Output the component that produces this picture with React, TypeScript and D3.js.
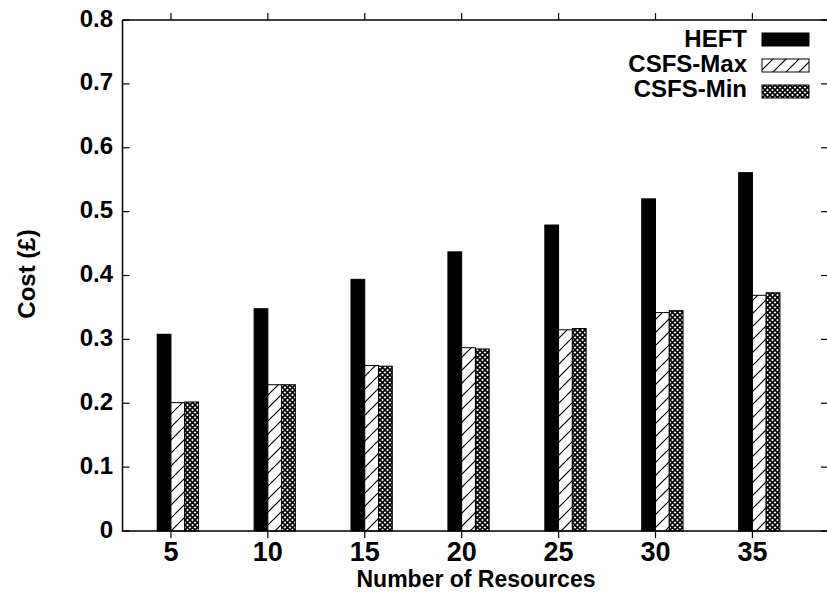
import React from "react";
import * as d3 from "d3";

// Number of resources on the x axis
const resources = [5, 10, 15, 20, 25, 30, 35];
// Cost (£) per scheduler
const heft = [0.308, 0.348, 0.394, 0.437, 0.479, 0.52, 0.561];
const csfsMax = [0.201, 0.229, 0.259, 0.287, 0.315, 0.342, 0.369];
const csfsMin = [0.202, 0.229, 0.258, 0.285, 0.317, 0.345, 0.373];
const yTicks = [0, 0.1, 0.2, 0.3, 0.4, 0.5, 0.6, 0.7, 0.8];
const seriesNames = ["HEFT", "CSFS-Max", "CSFS-Min"];

const W = 827;
const H = 596;
const FONT = "'Liberation Sans', Arial, Helvetica, sans-serif";

export default function App() {
  const x = d3.scaleLinear().domain([2.5, 38.9]).range([122.5, 828]);
  const y = d3.scaleLinear().domain([0, 0.8]).range([531, 20]);
  const bw = 0.71; // bar width in x units

  const series = [
    { name: seriesNames[0], values: heft, fill: "#000", offset: -bw / 2 },
    { name: seriesNames[1], values: csfsMax, fill: "url(#hatch)", offset: bw / 2 },
    { name: seriesNames[2], values: csfsMin, fill: "url(#cross)", offset: (3 * bw) / 2 },
  ];

  const [x0, x1] = x.range();
  const [yb, yt] = y.range();

  const legendRows = [
    { baseline: 47, top: 33, fill: "#000" },
    { baseline: 72, top: 59, fill: "url(#hatch)" },
    { baseline: 97, top: 85, fill: "url(#cross)" },
  ];

  return (
    <svg
      width={W}
      height={H}
      viewBox={`0 0 ${W} ${H}`}
      style={{ position: "fixed", left: 0, top: 0, background: "#fff" }}
      fontFamily={FONT}
    >
      <defs>
        <pattern id="hatch" patternUnits="userSpaceOnUse" width={13} height={13}>
          <rect width={13} height={13} fill="#fff" />
          <path
            d="M-2,15 L15,-2 M-4,4 L4,-4 M9,17 L17,9"
            stroke="#000"
            strokeWidth={1.2}
          />
        </pattern>
        <pattern id="cross" patternUnits="userSpaceOnUse" width={5} height={5}>
          <rect width={5} height={5} fill="#fff" />
          <path
            d="M-1,-1 L6,6 M6,-1 L-1,6"
            stroke="#000"
            strokeWidth={1.6}
          />
        </pattern>
      </defs>

      <rect width={W} height={H} fill="#fff" />

      {/* bars */}
      {series.map((s) =>
        s.values.map((v, i) => {
          const xa = x(resources[i] + s.offset - bw / 2);
          const xb = x(resources[i] + s.offset + bw / 2);
          return (
            <rect
              key={s.name + i}
              x={xa}
              y={y(v)}
              width={xb - xa}
              height={yb - y(v)}
              fill={s.fill}
              stroke="#000"
              strokeWidth={1}
            />
          );
        })
      )}

      {/* frame */}
      <path
        d={`M${x0},${yt} L${x1},${yt} M${x0},${yt} L${x0},${yb} L${x1},${yb} L${x1},${yt}`}
        fill="none"
        stroke="#000"
        strokeWidth={1.5}
      />

      {/* y ticks: inward on both sides */}
      {yTicks.map((t) => (
        <g key={"y" + t}>
          <line x1={x0} x2={x0 + 7} y1={y(t)} y2={y(t)} stroke="#000" strokeWidth={1.2} />
          <line x1={x1} x2={x1 - 7} y1={y(t)} y2={y(t)} stroke="#000" strokeWidth={1.2} />
          <text
            x={113}
            y={y(t) + 6.5}
            textAnchor="end"
            fontSize={24}
            fontWeight="bold"
          >
            {String(t)}
          </text>
        </g>
      ))}

      {/* x ticks: outward on top and bottom */}
      {resources.map((r) => (
        <g key={"x" + r}>
          <line x1={x(r)} x2={x(r)} y1={yb} y2={yb + 7} stroke="#000" strokeWidth={1.2} />
          <line x1={x(r)} x2={x(r)} y1={yt} y2={yt - 7} stroke="#000" strokeWidth={1.2} />
          <text
            x={x(r)}
            y={561}
            textAnchor="middle"
            fontSize={27}
            fontWeight="bold"
          >
            {r}
          </text>
        </g>
      ))}

      {/* axis titles */}
      <text x={476} y={587} textAnchor="middle" fontSize={23} fontWeight="bold">
        Number of Resources
      </text>
      <text
        transform="translate(35,274) rotate(-90)"
        textAnchor="middle"
        fontSize={24}
        fontWeight="bold"
      >
        Cost (£)
      </text>

      {/* legend */}
      {seriesNames.map((n, i) => (
        <g key={n}>
          <text
            x={747}
            y={legendRows[i].baseline}
            textAnchor="end"
            fontSize={24}
            fontWeight="bold"
          >
            {n}
          </text>
          <rect
            x={762}
            y={legendRows[i].top}
            width={47}
            height={13}
            fill={legendRows[i].fill}
            stroke="#000"
            strokeWidth={1}
          />
        </g>
      ))}
    </svg>
  );
}
